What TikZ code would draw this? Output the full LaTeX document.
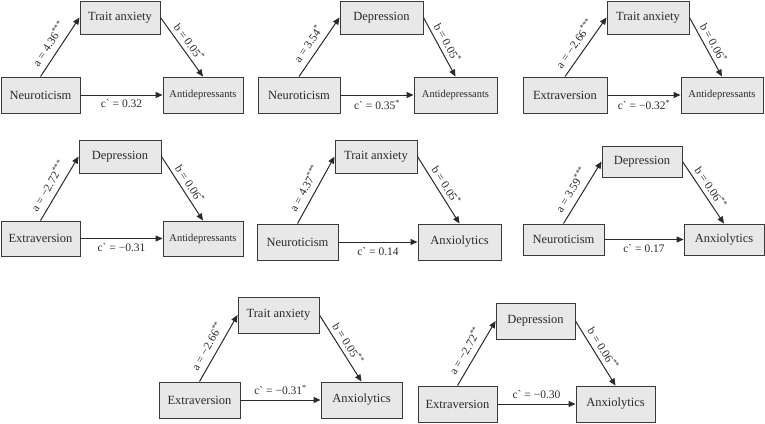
\documentclass[tikz,border=0pt]{standalone}
\usepackage{fontspec}
\setmainfont{Liberation Serif}
\usetikzlibrary{arrows.meta}
\definecolor{boxfill}{HTML}{E8E8E8}
\definecolor{boxline}{HTML}{3A3A3A}
\definecolor{txt}{HTML}{2A2A2A}
\newcommand\bx[7]{%
  \pgfmathsetmacro\bw{#4-#2}\pgfmathsetmacro\bh{#5-#3}%
  \node[box, font=#6, minimum width=\bw pt, minimum height=\bh pt] (#1) at ({(#2+#4)/2},{(#3+#5)/2}) {#7};}
\newcommand\tri[7]{%
  \draw[arr] (#1.north) -- (#2.west) node[pos=0.45, sloped, above=5pt, lab] {#4};
  \draw[arr] (#2.east) -- (#3.north) node[midway, sloped, above=3pt, lab] {#5};
  \draw[arr] (#1.east) -- (#3.west) node[midway, #7=3.5pt, lab] {#6};}
\newcommand\st[1]{\textsuperscript{#1}}
\newcommand\cc{c\textasciigrave\ = }
\tikzset{
  box/.style={draw=boxline, fill=boxfill, line width=0.9pt, inner sep=0pt, text=txt},
  lab/.style={font=\fontsize{11.5}{12}\selectfont, text=txt, inner sep=1pt},
  arr/.style={draw=txt, line width=1pt, -{Triangle[length=7pt,width=6pt]}},
}
\def\fa{\fontsize{12.5}{13}\selectfont}
\def\fb{\fontsize{10.5}{12}\selectfont}
\begin{document}
\begin{tikzpicture}[x=1pt,y=-1pt]
\useasboundingbox (0,0) rectangle (765,423);
% P1
\bx{m1}{80}{1}{160}{34}{\fa}{Trait anxiety}
\bx{x1}{1}{77}{80}{113}{\fa}{Neuroticism}
\bx{y1}{163}{77}{243}{113}{\fb}{Antidepressants}
\tri{x1}{m1}{y1}{a = 4.36\st{***}}{b = 0.05\st{*}}{\cc 0.32}{below}
% P2
\bx{m2}{340}{1}{423}{34}{\fa}{Depression}
\bx{x2}{258}{77}{340}{113}{\fa}{Neuroticism}
\bx{y2}{414}{77}{497}{113}{\fb}{Antidepressants}
\tri{x2}{m2}{y2}{a = 3.54\st{*}}{b = 0.05\st{*}}{\cc 0.35\st{*}}{below}
% P3
\bx{m3}{607}{1}{689}{34}{\fa}{Trait anxiety}
\bx{x3}{523}{77}{607}{113}{\fa}{Extraversion}
\bx{y3}{681}{77}{763}{113}{\fb}{Antidepressants}
\tri{x3}{m3}{y3}{a = −2.66\st{***}}{b = 0.06\st{*}}{\cc −0.32\st{*}}{below}
% P4
\bx{m4}{79}{140}{161}{173}{\fa}{Depression}
\bx{x4}{1}{221}{80}{256}{\fa}{Extraversion}
\bx{y4}{163}{221}{243}{256}{\fb}{Antidepressants}
\tri{x4}{m4}{y4}{a = −2.72\st{***}}{b = 0.06\st{*}}{\cc −0.31}{below}
% P5
\bx{m5}{335}{140}{417}{173}{\fa}{Trait anxiety}
\bx{x5}{257}{224}{338}{260}{\fa}{Neuroticism}
\bx{y5}{418}{224}{501}{260}{\fa}{Anxiolytics}
\tri{x5}{m5}{y5}{a = 4.37\st{***}}{b = 0.05\st{*}}{\cc 0.14}{below}
% P6
\bx{m6}{602}{146}{682}{177}{\fa}{Depression}
\bx{x6}{523}{224}{604}{255}{\fa}{Neuroticism}
\bx{y6}{684}{224}{764}{255}{\fa}{Anxiolytics}
\tri{x6}{m6}{y6}{a = 3.59\st{***}}{b = 0.06\st{**}}{\cc 0.17}{below}
% P7
\bx{m7}{238}{297}{319}{333}{\fa}{Trait anxiety}
\bx{x7}{159}{382}{240}{418}{\fa}{Extraversion}
\bx{y7}{321}{382}{402}{418}{\fa}{Anxiolytics}
\tri{x7}{m7}{y7}{a = −2.66\st{**}}{b = 0.05\st{**}}{\cc −0.31\st{*}}{above}
% P8
\bx{m8}{496}{303}{575}{339}{\fa}{Depression}
\bx{x8}{418}{386}{497}{422}{\fa}{Extraversion}
\bx{y8}{576}{386}{655}{422}{\fa}{Anxiolytics}
\tri{x8}{m8}{y8}{a = −2.72\st{**}}{b = 0.06\st{**}}{\cc −0.30}{above}
\end{tikzpicture}
\end{document}
